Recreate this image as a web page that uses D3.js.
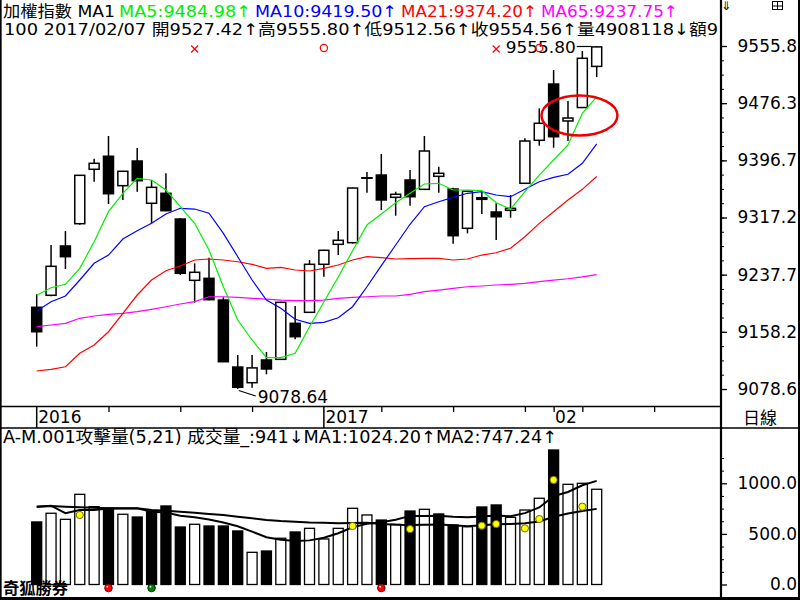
<!DOCTYPE html>
<html>
<head>
<meta charset="utf-8">
<script src="https://cdn.jsdelivr.net/npm/d3@7"></script>
<style>
  body { margin: 0; background: #fff; }
  svg { display: block; }
  text { font-family: "DejaVu Sans", "Noto Sans CJK TC", sans-serif; }
</style>
</head>
<body>
<svg id="chart" width="800" height="600"></svg>
<script>
// daily bars 2016/12/05 .. 2017/02/07, index 0..39
const opens  = [9192.3, 9209.0, 9277.6, 9308.6, 9384.3, 9402.4, 9361.5, 9395.8, 9337.0, 9350.9,
                9315.1, 9229.8, 9232.6, 9202.4, 9109.2, 9087.4, 9119.0, 9119.9, 9170.0, 9185.3,
                9252.1, 9279.9, 9282.2, 9372.5, 9376.3, 9345.3, 9369.4, 9356.4, 9374.5, 9356.9,
                9302.2, 9344.8, 9324.9, 9327.2, 9364.8, 9424.6, 9502.9, 9451.5, 9470.2, 9527.42];
const highs  = [9210.4, 9279.0, 9298.4, 9376.5, 9399.0, 9430.6, 9382.0, 9413.9, 9369.4, 9378.7,
                9316.5, 9253.5, 9261.3, 9206.2, 9125.9, 9125.9, 9130.1, 9200.0, 9194.1, 9258.1,
                9272.5, 9298.4, 9359.0, 9380.5, 9405.6, 9353.1, 9383.3, 9430.6, 9387.9, 9358.7,
                9354.5, 9353.1, 9337.0, 9348.5, 9427.4, 9469.1, 9522.4, 9479.3, 9548.8, 9555.80];
const lows   = [9137.5, 9207.5, 9245.6, 9307.0, 9367.0, 9336.0, 9341.6, 9353.1, 9309.1, 9326.0,
                9237.2, 9198.7, 9202.0, 9116.0, 9078.64, 9080.4, 9099.1, 9119.0, 9147.8, 9184.5,
                9234.8, 9265.0, 9281.0, 9351.7, 9327.6, 9319.7, 9333.6, 9355.8, 9351.7, 9280.8,
                9295.2, 9322.1, 9285.9, 9316.9, 9364.0, 9417.1, 9414.3, 9423.6, 9469.5, 9512.56];
const closes = [9158.3, 9249.3, 9262.7, 9375.9, 9392.6, 9350.3, 9381.5, 9368.4, 9359.2, 9326.7,
                9239.6, 9241.0, 9202.9, 9116.6, 9081.0, 9108.0, 9106.5, 9199.2, 9151.4, 9252.1,
                9271.6, 9285.5, 9358.2, 9372.0, 9341.6, 9349.5, 9346.1, 9409.7, 9378.7, 9291.9,
                9353.7, 9342.5, 9318.3, 9330.0, 9423.6, 9448.3, 9429.6, 9455.6, 9538.7, 9554.56];

// moving averages as drawn
const ma5  = [9209.0, 9219.5, 9224.3, 9246.5, 9283.5, 9325.3, 9350.9, 9371.7, 9369.4, 9355.5,
              9332.2, 9309.1, 9272.0, 9220.9, 9174.6, 9146.8, 9122.2, 9122.2, 9128.3, 9165.3,
              9199.7, 9234.4, 9271.0, 9306.8, 9322.1, 9337.8, 9350.9, 9363.8, 9364.8, 9355.5,
              9355.5, 9354.5, 9337.8, 9329.0, 9353.1, 9376.3, 9397.2, 9418.1, 9462.2, 9484.98];
const ma10 = [9187.1, 9200.1, 9208.0, 9230.3, 9253.5, 9265.0, 9287.3, 9298.8, 9309.1, 9322.1,
              9330.0, 9329.0, 9323.1, 9295.2, 9262.7, 9230.3, 9202.4, 9190.9, 9175.6, 9170.0,
              9171.4, 9177.8, 9193.1, 9220.9, 9250.2, 9279.0, 9307.8, 9332.2, 9339.2, 9345.3,
              9350.9, 9353.1, 9348.5, 9346.1, 9356.4, 9367.0, 9373.1, 9377.3, 9392.6, 9419.50];
const ma21 = [9103.7, 9106.0, 9109.6, 9128.3, 9139.8, 9158.3, 9183.9, 9209.4, 9230.3, 9243.2,
              9249.7, 9258.1, 9259.5, 9258.1, 9255.7, 9252.1, 9246.5, 9247.9, 9244.2, 9242.8,
              9246.5, 9251.1, 9258.1, 9262.7, 9261.3, 9259.5, 9259.9, 9260.4, 9260.4, 9258.1,
              9259.5, 9265.0, 9268.2, 9274.4, 9290.5, 9309.1, 9325.3, 9341.6, 9356.4, 9374.20];
const ma65 = [9165.3, 9167.7, 9170.0, 9177.0, 9180.2, 9182.5, 9183.9, 9186.2, 9189.5, 9193.1,
              9196.9, 9200.1, 9207.0, 9207.0, 9206.2, 9204.8, 9203.8, 9202.4, 9201.5, 9201.5,
              9202.4, 9204.8, 9206.2, 9207.0, 9208.0, 9208.0, 9210.4, 9214.0, 9216.3, 9218.7,
              9220.9, 9221.9, 9223.3, 9224.3, 9225.7, 9228.0, 9230.0, 9232.0, 9234.5, 9237.75];

// volume (億) and its two averages
const volumes = [618, 704, 644, 891, 769, 753, 694, 667, 719, 776,
                 568, 595, 578, 578, 529, 318, 331, 457, 519, 555,
                 450, 555, 753, 687, 637, 595, 726, 743, 697, 588,
                 571, 766, 786, 664, 736, 852, 1329, 990, 1000, 941];
const volMa5  = [769, 779, 704, 736, 735, 750, 750, 752, 720, 712,
                 680, 664, 642, 612, 576, 522, 467, 443, 431, 436,
                 462, 507, 566, 600, 616, 640, 678, 678, 680, 670,
                 665, 673, 682, 675, 705, 761, 873, 914, 981, 1024.20];
const volMa21 = [769, 776, 769, 763, 759, 753, 753, 753, 736, 729,
                 719, 709, 697, 687, 670, 654, 637, 627, 621, 613,
                 609, 606, 608, 610, 598, 590, 589, 591, 592, 586,
                 576, 586, 595, 599, 606, 622, 670, 701, 727, 747.24];

// attack-volume signals
const yellowIdx = [3, 22, 26, 31, 32, 34, 35, 36, 38];
const yellowVal = [687, 578, 548, 581, 598, 555, 647, 1033, 769];
const redIdx = [5, 24];
const greenIdx = [8];
const crossIdx = [11, 32];
const ringIdx = [20, 35];

// x axis marks
const weekIdx = [5, 10, 15, 24, 29, 34, 36, 38, 43];
const yearIdx = [0, 20];
const yearLabels = ["2016", "2017"];
const monthIdx = [36];
const monthLabels = ["02"];
const priceTicks = [9555.8, 9476.3, 9396.7, 9317.2, 9237.7, 9158.2, 9078.6];
const volTicks = [0, 500, 1000];

const fontStack = '"DejaVu Sans","Noto Sans CJK TC",sans-serif';
const svg = d3.select("#chart");

const x = d3.scaleLinear().domain([0, 39]).range([36.7, 596.7]);
const y = d3.scaleLinear().domain([9078.64, 9555.8]).range([389, 46]);
const yv = d3.scaleLinear().domain([0, 1000]).range([584.5, 483.3]);
const idx = d3.range(opens.length);

svg.append("defs").append("clipPath").attr("id", "clipPrice")
  .append("rect").attr("x", 0).attr("y", 0).attr("width", 720).attr("height", 405);

// ---- price panel
const price = svg.append("g").attr("clip-path", "url(#clipPrice)");

const candle = price.selectAll("g.candle").data(idx).join("g").attr("class", "candle");
candle.append("line")
  .attr("x1", i => x(i)).attr("x2", i => x(i))
  .attr("y1", i => y(highs[i])).attr("y2", i => y(lows[i]))
  .attr("stroke", "#000").attr("stroke-width", 1.5);
candle.append("rect")
  .attr("x", i => x(i) - 5).attr("width", 10)
  .attr("y", i => y(Math.max(opens[i], closes[i])))
  .attr("height", i => Math.max(0.5, Math.abs(y(opens[i]) - y(closes[i]))))
  .attr("fill", i => closes[i] >= opens[i] ? "#fff" : "#000")
  .attr("stroke", "#000").attr("stroke-width", 1.5);

const maLine = d3.line().x((d, i) => x(i)).y(d => y(d));
[[ma65, "#ff00ff"], [ma21, "#ff0000"], [ma10, "#0000ff"], [ma5, "#00ee00"]].forEach(([s, c]) => {
  price.append("path").datum(s).attr("d", maLine)
    .attr("fill", "none").attr("stroke", c).attr("stroke-width", 1.2);
});

// highest / lowest labels
const hiI = d3.maxIndex(highs), loI = d3.minIndex(lows);
price.append("line")
  .attr("x1", x(hiI) - 20).attr("x2", x(hiI) - 5)
  .attr("y1", y(highs[hiI]) + 0.5).attr("y2", y(highs[hiI]) + 0.5)
  .attr("stroke", "#000").attr("stroke-width", 1.2);
price.append("text")
  .attr("x", x(hiI) - 21).attr("y", y(highs[hiI]) + 7)
  .attr("text-anchor", "end").attr("font-size", 16)
  .attr("textLength", 70).attr("lengthAdjust", "spacingAndGlyphs")
  .text(highs[hiI].toFixed(2));
price.append("line")
  .attr("x1", x(loI) + 1).attr("y1", y(lows[loI]) + 1.5)
  .attr("x2", x(loI) + 18).attr("y2", y(lows[loI]) + 7)
  .attr("stroke", "#000").attr("stroke-width", 1.2);
price.append("text")
  .attr("x", x(loI) + 20).attr("y", y(lows[loI]) + 14)
  .attr("font-size", 17)
  .text(lows[loI].toFixed(2));

// red signals on the top row
crossIdx.forEach(i => {
  const cx = x(i), cy = 49;
  price.append("path")
    .attr("d", `M${cx - 3.5},${cy - 3.5}L${cx + 3.5},${cy + 3.5}M${cx + 3.5},${cy - 3.5}L${cx - 3.5},${cy + 3.5}`)
    .attr("stroke", "#ff0000").attr("stroke-width", 1.2);
});
ringIdx.forEach(i => {
  price.append("circle").attr("cx", x(i)).attr("cy", 48).attr("r", 3.6)
    .attr("fill", "none").attr("stroke", "#ff0000").attr("stroke-width", 1.2);
});

// hand drawn ellipse
price.append("ellipse")
  .attr("cx", x(37.8)).attr("cy", y(9459)).attr("rx", 38).attr("ry", 20)
  .attr("fill", "none").attr("stroke", "#ee0000").attr("stroke-width", 2.5);

// header lines
const head = [
  ["加權指數 MA1", "#000", 3, 112],
  ["MA5:" + ma5[39].toFixed(2) + "↑", "#00ee00", 119, 132],
  ["MA10:" + ma10[39].toFixed(2) + "↑", "#0000ff", 255, 142],
  ["MA21:" + ma21[39].toFixed(2) + "↑", "#ff0000", 401, 136],
  ["MA65:" + ma65[39].toFixed(2) + "↑", "#ff00ff", 541, 137]
];
head.forEach(([t, c, hx, len]) => {
  svg.append("text").attr("x", hx).attr("y", 16.5).attr("font-size", 16)
    .attr("fill", c).attr("textLength", len).attr("lengthAdjust", "spacingAndGlyphs").text(t);
});
svg.append("text").attr("x", 4).attr("y", 35).attr("font-size", 16)
  .attr("textLength", 714).attr("lengthAdjust", "spacingAndGlyphs")
  .text("100 2017/02/07 開" + opens[39].toFixed(2) + "↑高" + highs[39].toFixed(2) +
        "↑低" + lows[39].toFixed(2) + "↑收" + closes[39].toFixed(2) + "↑量4908118↓額9");

// price axis
const pAxis = svg.append("g").attr("transform", "translate(722,0)")
  .call(d3.axisRight(y).tickValues(priceTicks).tickSize(5).tickFormat(d3.format(".1f")));
pAxis.select(".domain").remove();
pAxis.attr("font-size", 17).attr("font-family", fontStack);
pAxis.selectAll("line").attr("stroke-width", 1.3);
pAxis.selectAll("text").attr("x", 75).attr("text-anchor", "end");
const pMinor = d3.range(9078.64, 9556, 79.527 / 4);
const pm = svg.append("g").attr("transform", "translate(722,0)")
  .call(d3.axisRight(y).tickValues(pMinor).tickSize(2).tickFormat(""));
pm.select(".domain").remove();

// ---- x axis band
const xa = svg.append("g").attr("transform", "translate(0,406)");
xa.call(d3.axisBottom(x).tickValues(weekIdx).tickSize(6).tickFormat(""))
  .select(".domain").remove();
xa.selectAll("line").attr("stroke-width", 1.3);
const xy = svg.append("g").attr("transform", "translate(0,406)");
xy.call(d3.axisBottom(x).tickValues(yearIdx).tickSize(22).tickFormat(""))
  .select(".domain").remove();
xy.selectAll("line").attr("stroke-width", 1.5).attr("transform", "translate(-0.5,0)");
yearIdx.forEach((i, k) => {
  svg.append("text").attr("x", x(i) + 1.5).attr("y", 423).attr("font-size", 17).text(yearLabels[k]);
});
monthIdx.forEach((i, k) => {
  svg.append("text").attr("x", x(i) + 1.5).attr("y", 423).attr("font-size", 17).text(monthLabels[k]);
});
svg.append("text").attr("x", 743).attr("y", 424).attr("font-size", 17)
  .attr("textLength", 34).attr("lengthAdjust", "spacingAndGlyphs").text("日線");

// ---- volume panel
const vol = svg.append("g");
vol.selectAll("rect.vbar").data(volumes).join("rect").attr("class", "vbar")
  .attr("x", (d, i) => x(i) - 5).attr("width", 10)
  .attr("y", d => yv(d)).attr("height", d => yv(0) - yv(d))
  .attr("fill", (d, i) => closes[i] >= (i ? closes[i - 1] : opens[i]) ? "#fff" : "#000")
  .attr("stroke", "#000").attr("stroke-width", 1.3);

const vLine = d3.line().x((d, i) => x(i)).y(d => yv(d));
[volMa21, volMa5].forEach(s => {
  vol.append("path").datum(s).attr("d", vLine)
    .attr("fill", "none").attr("stroke", "#000").attr("stroke-width", 2);
});

vol.selectAll("circle.yel").data(yellowIdx).join("circle").attr("class", "yel")
  .attr("cx", i => x(i)).attr("cy", (i, k) => yv(yellowVal[k])).attr("r", 3.6)
  .attr("fill", "#ffff00").attr("stroke", "#6b6b00").attr("stroke-width", 1);

function ball(i, fill, edge) {
  vol.append("circle").attr("cx", x(i)).attr("cy", 588).attr("r", 3.8)
    .attr("fill", fill).attr("stroke", edge).attr("stroke-width", 1);
  vol.append("circle").attr("cx", x(i) - 1.2).attr("cy", 586.8).attr("r", 1)
    .attr("fill", "#fff").attr("opacity", 0.8);
}
redIdx.forEach(i => ball(i, "#ff0000", "#800000"));
greenIdx.forEach(i => ball(i, "#008000", "#003000"));

svg.append("text").attr("x", 3).attr("y", 443).attr("font-size", 17)
  .attr("textLength", 554).attr("lengthAdjust", "spacingAndGlyphs")
  .text("A-M.001攻擊量(5,21) 成交量_:" + volumes[39] + "↓MA1:" + volMa5[39].toFixed(2) +
        "↑MA2:" + volMa21[39].toFixed(2) + "↑");
svg.append("text").attr("x", 3).attr("y", 594).attr("font-size", 16).attr("font-weight", "bold")
  .attr("textLength", 65).attr("lengthAdjust", "spacingAndGlyphs").text("奇狐勝券");

const vAxis = svg.append("g").attr("transform", "translate(722,0)")
  .call(d3.axisRight(yv).tickValues(volTicks).tickSize(5).tickFormat(d3.format(".1f")));
vAxis.select(".domain").remove();
vAxis.attr("font-size", 17).attr("font-family", fontStack);
vAxis.selectAll("line").attr("stroke-width", 1.3);
vAxis.selectAll("text").attr("x", 75).attr("text-anchor", "end");
const vm = svg.append("g").attr("transform", "translate(722,0)")
  .call(d3.axisRight(yv).tickValues([125, 250, 375, 625, 750, 875, 1125, 1250]).tickSize(2).tickFormat(""));
vm.select(".domain").remove();

// ---- frame
const frame = svg.append("g").attr("stroke", "#000");
frame.append("line").attr("x1", 0.8).attr("x2", 0.8).attr("y1", 0).attr("y2", 600).attr("stroke-width", 1.7);
frame.append("line").attr("x1", 721).attr("x2", 721).attr("y1", 0).attr("y2", 600).attr("stroke-width", 2.2);
frame.append("line").attr("x1", 799).attr("x2", 799).attr("y1", 0).attr("y2", 600).attr("stroke-width", 2);
frame.append("line").attr("x1", 0).attr("x2", 721).attr("y1", 406.5).attr("y2", 406.5).attr("stroke-width", 1.5);
frame.append("line").attr("x1", 0).attr("x2", 800).attr("y1", 428).attr("y2", 428).attr("stroke-width", 1.6);
frame.append("line").attr("x1", 0).attr("x2", 800).attr("y1", 598.5).attr("y2", 598.5).attr("stroke-width", 3);

// corner icons
svg.append("text").attr("x", 726).attr("y", 10).attr("font-size", 12)
  .attr("text-anchor", "middle").text("⇓");
const win = svg.append("g").attr("fill", "none").attr("stroke", "#000").attr("stroke-width", 1);
win.append("rect").attr("x", 772.5).attr("y", 1.5).attr("width", 10).attr("height", 8);
win.append("line").attr("x1", 772.5).attr("x2", 782.5).attr("y1", 6).attr("y2", 6);
win.append("line").attr("x1", 777.5).attr("x2", 777.5).attr("y1", 1.5).attr("y2", 9.5);
</script>
</body>
</html>
